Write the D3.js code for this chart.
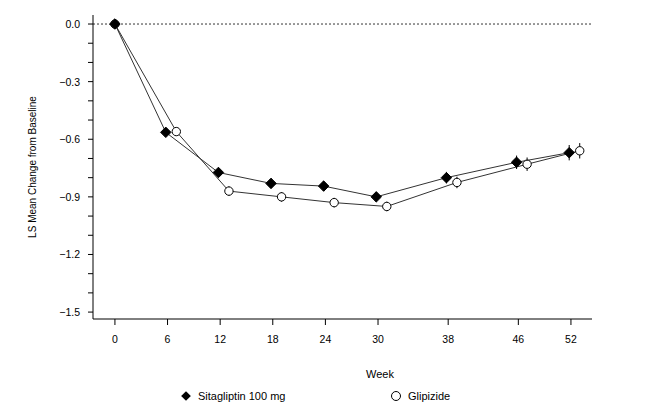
<!DOCTYPE html>
<html><head><meta charset="utf-8">
<script src="https://cdn.jsdelivr.net/npm/d3@7"></script>
<style>body{margin:0;background:#fff}text{font-family:"Liberation Sans",Arial,sans-serif;fill:#000}</style>
</head><body><div id="chart"></div>
<script>
var weeks = [0, 6, 12, 18, 24, 30, 38, 46, 52];
var sitagliptin = [0, -0.564, -0.773, -0.83, -0.844, -0.90, -0.80, -0.72, -0.67];
var glipizide = [0, -0.56, -0.87, -0.90, -0.93, -0.95, -0.825, -0.73, -0.66];
var sitaErr = [0, 0.02, 0.025, 0.025, 0.025, 0.025, 0.03, 0.035, 0.04];
var glipErr = [0, 0.02, 0.025, 0.025, 0.025, 0.025, 0.03, 0.035, 0.04];
var yTicks = [0, -0.3, -0.6, -0.9, -1.2, -1.5];

var svg = d3.select("#chart").append("svg").attr("width", 657).attr("height", 415);
var x = d3.scaleLinear().domain([-2.5, 54.4]).range([93, 592]);
var y = d3.scaleLinear().domain([0.047, -1.536]).range([15, 319]);

// axes
svg.append("line").attr("x1", 93).attr("x2", 93).attr("y1", 15).attr("y2", 319).attr("stroke", "#000");
svg.append("line").attr("x1", 93).attr("x2", 592).attr("y1", 319).attr("y2", 319).attr("stroke", "#000");
svg.append("g").selectAll("line").data(d3.range(0, 16)).join("line")
  .attr("x1", 88).attr("x2", 93).attr("y1", d => y(-d / 10)).attr("y2", d => y(-d / 10)).attr("stroke", "#000");
svg.append("g").selectAll("text").data(yTicks).join("text")
  .attr("x", 80).attr("y", d => y(d) + 4).attr("text-anchor", "end").attr("font-size", 10.5)
  .text(d => d3.format(".1f")(d));
svg.append("g").selectAll("line").data(weeks).join("line")
  .attr("x1", d => x(d)).attr("x2", d => x(d)).attr("y1", 319).attr("y2", 325).attr("stroke", "#000");
svg.append("g").selectAll("text").data(weeks).join("text")
  .attr("x", d => x(d)).attr("y", 343).attr("text-anchor", "middle").attr("font-size", 10.5).text(d => d);
svg.append("line").attr("x1", 93).attr("x2", 592).attr("y1", y(0)).attr("y2", y(0))
  .attr("stroke", "#000").attr("stroke-dasharray", "2,2").attr("stroke-width", 0.8);

svg.append("text").attr("transform", "translate(36,167) rotate(-90)").attr("text-anchor", "middle")
  .attr("font-size", 10).text("LS Mean Change from Baseline");
svg.append("text").attr("x", 380).attr("y", 378).attr("text-anchor", "middle").attr("font-size", 11).text("Week");

function series(vals, errs, off, filled) {
  var pts = weeks.map((w, i) => [x(w + (i === 0 ? 0 : off)), y(vals[i]), errs[i], vals[i]]);
  svg.append("path").attr("d", d3.line()(pts.map(p => [p[0], p[1]]))).attr("fill", "none")
    .attr("stroke", "#333").attr("stroke-width", 1);
  svg.append("g").selectAll("line").data(pts.slice(1)).join("line")
    .attr("x1", p => p[0]).attr("x2", p => p[0]).attr("y1", p => y(p[3] + p[2])).attr("y2", p => y(p[3] - p[2]))
    .attr("stroke", "#000");
  var sym = d3.symbol().type(filled ? d3.symbolDiamond2 : d3.symbolCircle).size(filled ? 70 : 55);
  svg.append("g").selectAll("path").data(pts).join("path")
    .attr("transform", p => "translate(" + p[0] + "," + p[1] + ")").attr("d", sym)
    .attr("fill", filled ? "#000" : "#fff").attr("stroke", "#000").attr("stroke-width", 1);
}
series(glipizide, glipErr, 1.0, false);
series(sitagliptin, sitaErr, -0.2, true);

// legend
svg.append("path").attr("transform", "translate(186,396)").attr("d", d3.symbol().type(d3.symbolDiamond2).size(60)).attr("fill", "#000");
svg.append("text").attr("x", 198).attr("y", 400).attr("font-size", 11).text("Sitagliptin 100 mg");
svg.append("circle").attr("cx", 396).attr("cy", 396).attr("r", 4.5).attr("fill", "#fff").attr("stroke", "#000");
svg.append("text").attr("x", 408).attr("y", 400).attr("font-size", 11).text("Glipizide");
</script></body></html>
